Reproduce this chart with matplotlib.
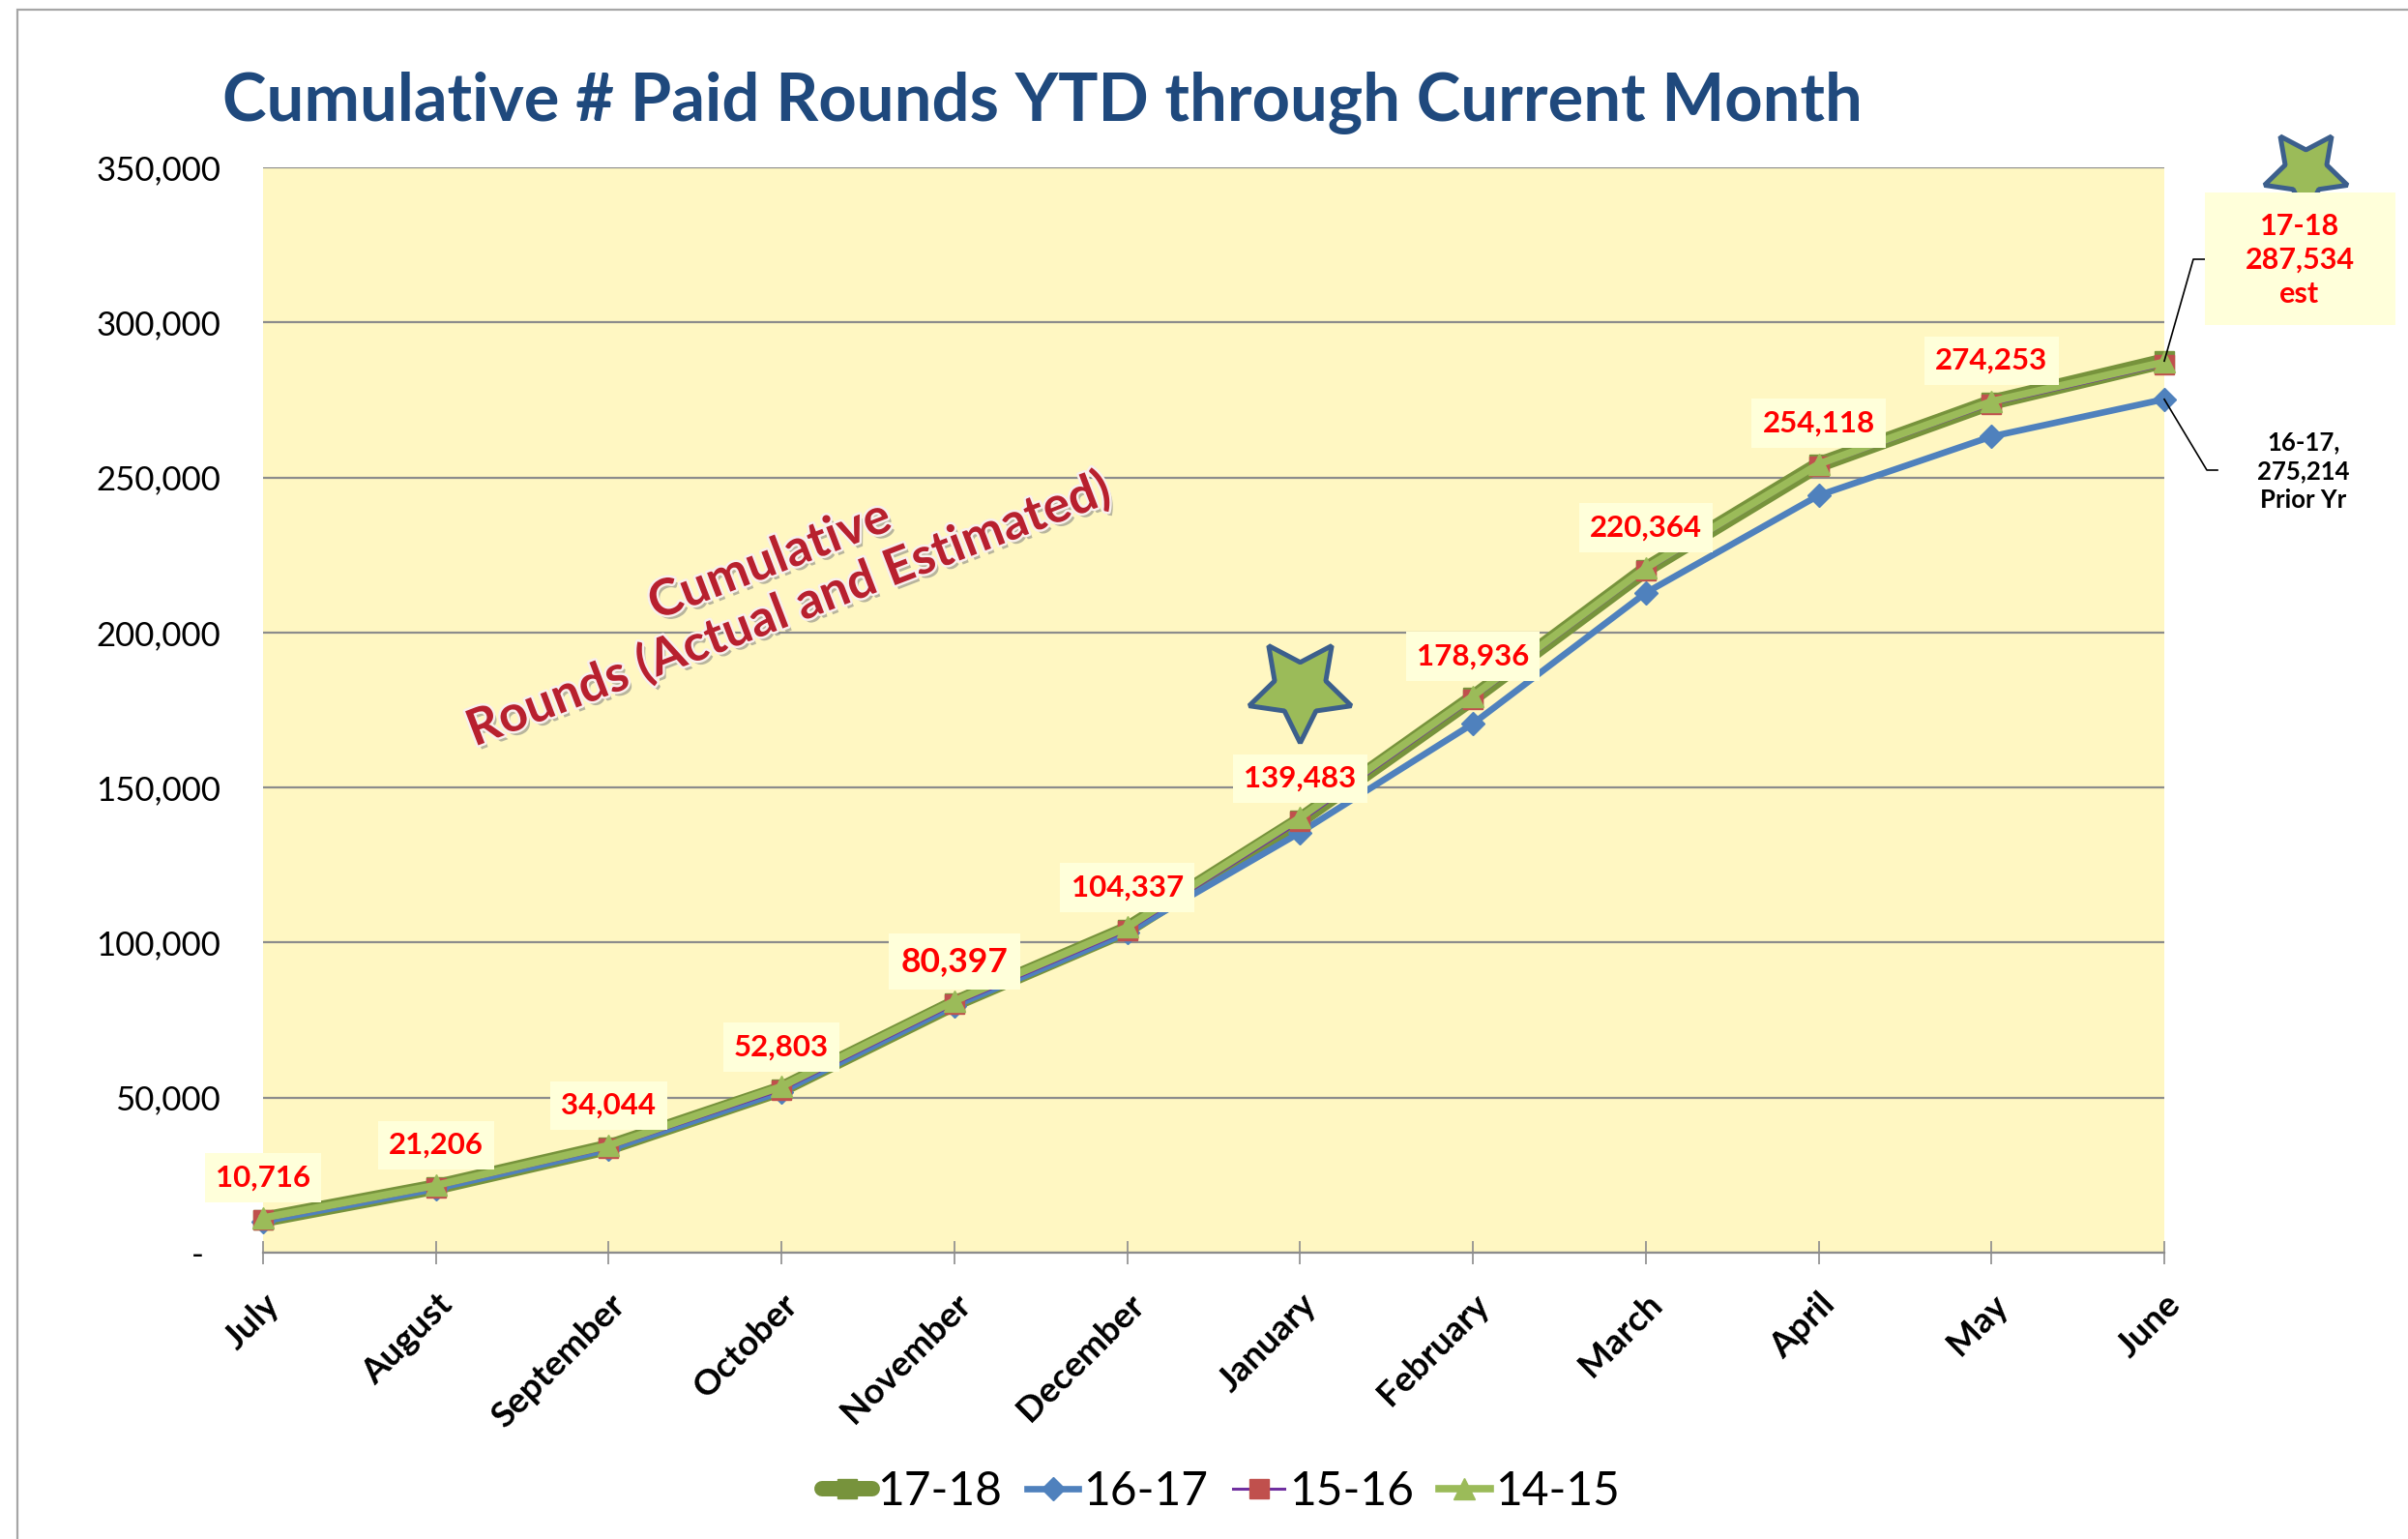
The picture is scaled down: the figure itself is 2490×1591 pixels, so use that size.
import matplotlib
matplotlib.use('Agg')
import matplotlib.pyplot as plt
import matplotlib.patheffects as pe
from matplotlib.patches import Rectangle
from matplotlib.lines import Line2D
from matplotlib.ticker import FuncFormatter, MultipleLocator

# ---------------- data ----------------
months = ['July', 'August', 'September', 'October', 'November', 'December',
          'January', 'February', 'March', 'April', 'May', 'June']
rounds_1718 = [10716, 21206, 34044, 52803, 80397, 104337,
               139483, 178936, 220364, 254118, 274253, 287534]
rounds_1617 = [10100, 20600, 33300, 51900, 79600, 103200,
               135500, 170600, 212800, 244200, 263200, 275214]
rounds_1516 = [10500, 21000, 33800, 52500, 80100, 103900,
               139000, 178500, 219900, 253600, 273600, 286300]
rounds_1415 = [11200, 21700, 34600, 53600, 81200, 105000,
               140300, 179500, 220800, 254300, 274500, 287200]
series_names = ['17-18', '16-17', '15-16', '14-15']
title_text = 'Cumulative # Paid Rounds YTD through Current Month'
overlay_text = 'Cumulative\nRounds (Actual and Estimated)'
est_note = '17-18\n287,534\nest'
prior_note = '16-17,\n275,214\nPrior Yr'
y_max = 350000
y_step = 50000

# ---------------- figure ----------------
W, H = 2490, 1591
plt.rcParams['font.family'] = ['Lato', 'DejaVu Sans']
fig = plt.figure(figsize=(W / 100, H / 100), dpi=100)
fig.patch.set_facecolor('white')


def fx(px):
    return px / W


def fy(py):
    return 1 - py / H


# outer chart frame (only left & top visible)
fig.add_artist(Rectangle((fx(18), -0.1), 2, 1.1 - 10 / H, transform=fig.transFigure,
                         fill=False, ec='#A6A6A6', lw=1.6))

L, R, T, B = 272, 2238, 173, 1295
ax = fig.add_axes([fx(L), fy(B), fx(R) - fx(L), fy(T) - fy(B)])
ax.set_facecolor('#FFF7C2')
ax.set_xlim(0, len(months) - 1)
ax.set_ylim(0, y_max)

x = list(range(len(months)))
ax.plot(x, rounds_1718, color='#77933C', lw=11.5, marker='s', ms=15,
        mfc='#77933C', mec='#77933C', solid_joinstyle='round', solid_capstyle='round',
        clip_on=False, zorder=3, label=series_names[0])
ax.plot(x, rounds_1617, color='#4F81BD', lw=4.8, marker='D', ms=12,
        mfc='#4F81BD', mec='#4F81BD', clip_on=False, zorder=4, label=series_names[1])
ax.plot(x, rounds_1516, color='#7030A0', lw=2.2, marker='s', ms=14,
        mfc='#C0504D', mec='#C0504D', clip_on=False, zorder=5, label=series_names[2])
ax.plot(x, rounds_1415, color='#9BBB59', lw=5.5, marker='^', ms=16,
        mfc='#9BBB59', mec='#9BBB59', clip_on=False, zorder=6, label=series_names[3])

# grid & axes
ax.yaxis.set_major_locator(MultipleLocator(y_step))
ax.grid(axis='y', color='#8C8C8C', lw=1.6, zorder=1)
ax.set_axisbelow(True)
for s in ['top', 'left', 'right']:
    ax.spines[s].set_visible(False)
ax.spines['bottom'].set_color('#8C8C8C')
ax.spines['bottom'].set_linewidth(1.6)

ax.yaxis.set_major_formatter(FuncFormatter(lambda v, p: '-  ' if v == 0 else f'{int(v):,}'))
ax.tick_params(axis='y', length=0, pad=31.5, labelsize=25, labelcolor='black')
ax.set_xticks(x)
ax.set_xticklabels(months, rotation=45, ha='right', va='top', rotation_mode='anchor',
                   fontweight='bold', fontsize=26.5)
ax.tick_params(axis='x', direction='inout', length=17, width=1.2, color='#8C8C8C', pad=18)

# data labels for 17-18 (the final month is carried by the side note)
for i, v in enumerate(rounds_1718[:-1]):
    fs = 25.5 if i == 4 else 22.5
    ax.annotate(f'{v:,}', (i, v), xytext=(0, 31), textcoords='offset points',
                ha='center', va='center', fontsize=fs, fontweight='bold', color='#FF0000',
                bbox=dict(boxstyle='square,pad=0.36', fc='#FFFFDA', ec='none'),
                zorder=8, annotation_clip=False)

# overlay diagonal text
fig.text(fx(806), fy(606), overlay_text, rotation=21, ha='center', va='center',
         multialignment='center', fontsize=37.5, fontweight='bold', color='#B8202E',
         linespacing=1.15, rotation_mode='anchor',
         path_effects=[pe.SimplePatchShadow(offset=(2.5, -3), shadow_rgbFace='#7F7F7F', alpha=0.55),
                       pe.withStroke(linewidth=3.5, foreground='#F8F0EE')])

# stars
ax.plot([6], [182000], marker=(5, 1, 180), ms=80, mfc='#9BBB59', mec='#3C5F8C',
        mew=3.6, clip_on=False, zorder=7)
ax.plot([1.0743], [0.9964], marker=(5, 1, 180), ms=65, mfc='#9BBB59', mec='#3C5F8C',
        mew=3.6, clip_on=False, zorder=9, transform=ax.transAxes)

# right-side notes
fig.add_artist(Rectangle((fx(2280), fy(336)), fx(2477) - fx(2280), fy(199) - fy(336),
                         transform=fig.transFigure, fc='#FFFFDA', ec='none', zorder=5))
fig.text(fx(2378), fy(269), est_note, ha='center', va='center', multialignment='center',
         fontsize=22, fontweight='bold', color='#FF0000', linespacing=1.3, zorder=10)
fig.text(fx(2382), fy(487), prior_note, ha='center', va='center', multialignment='center',
         fontsize=18.5, fontweight='bold', color='black', linespacing=1.3)

to_axes = ax.transAxes.inverted()
p1 = to_axes.transform(ax.transData.transform((x[-1], rounds_1718[-1])))
p2 = to_axes.transform(ax.transData.transform((x[-1], rounds_1617[-1])))


def ax_px(px, py):
    return (px - L) / (R - L), (B - py) / (B - T)


e1 = ax_px(2268, 268)
k1 = ax_px(2280, 268)
e2 = ax_px(2282, 486)
k2 = ax_px(2293, 486)
ax.add_line(Line2D([p1[0], e1[0], k1[0]], [p1[1], e1[1], k1[1]], color='black', lw=1.2,
                   transform=ax.transAxes, clip_on=False, zorder=9))
ax.add_line(Line2D([p2[0], e2[0], k2[0]], [p2[1], e2[1], k2[1]], color='black', lw=1.2,
                   transform=ax.transAxes, clip_on=False, zorder=9))

# title
fig.text(fx(230), fy(125), title_text, ha='left', va='baseline', fontsize=49.5,
         fontweight='bold', color='#1F497D')

# legend
leg = ax.legend(loc='center', bbox_to_anchor=(fx(1262), fy(1542)), bbox_transform=fig.transFigure,
                ncol=4, frameon=False, fontsize=34.5, handlelength=1.1, handletextpad=0.1,
                columnspacing=0.55, numpoints=1)

fig.savefig('out.png', dpi=100)
